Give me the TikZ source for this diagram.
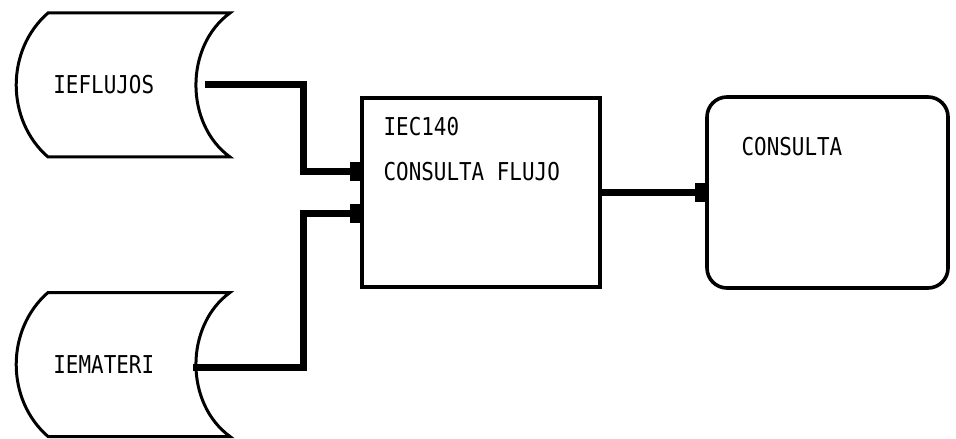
\documentclass[tikz,border=0pt]{standalone}
\usepackage{fontspec}
\newfontfamily\dotfont[FakeStretch=0.85]{DejaVu Sans Mono}
\usetikzlibrary{arrows.meta,positioning,calc}

\begin{document}
\begin{tikzpicture}[x=0.5pt, y=-0.5pt, font=\dotfont\fontsize{12.3}{14}\selectfont,
  >={Rectangle[length=5pt,width=9.5pt]},
  store/.style={minimum width=91pt, minimum height=72pt, inner sep=0pt, outer sep=0pt},
  proc/.style={draw, line width=1.8pt, minimum width=119pt, minimum height=94.5pt, inner sep=0pt},
  term/.style={proc, rounded corners=10pt, minimum width=120.5pt, minimum height=95.5pt},
  shell/.style={line width=1.5pt},
  lbl/.style={inner sep=0pt},
  flow/.style={->, line width=3.5pt}]
\useasboundingbox (0,0) rectangle (956,438);
% files
\node[store] (flujos) at (139,85) {};
\node[store] (materi) at (139,364.5) {};
\foreach \f in {flujos,materi}
  \draw[shell] (\f.south west) to[bend left=49] (\f.north west) -- (\f.north east)
    to[bend right=54] (\f.south east) -- cycle;
\node[lbl, right=2.5pt of flujos.west] (flujoslbl) {IEFLUJOS};
\node[lbl, right=2.5pt of materi.west] (materilbl) {IEMATERI};
% program and output
\node[proc] (iec) at (481,192.5) {};
\node[lbl, below right=10.5pt and 11.5pt of iec.north west] (iecid) {IEC140};
\node[lbl, below=12.5pt of iecid.south west, anchor=north west] (iectitle) {CONSULTA FLUJO};
\node[term] (consulta) at (827.5,192.5) {};
\node[lbl, below right=21pt and 18pt of consulta.north west] (consultalbl) {CONSULTA};
% flows
\coordinate (fo) at ($(flujos.east)+(-25,0)$);
\coordinate (mo) at ($(materi.east)+(-37,3)$);
\draw[flow] (fo) -- ++(98,0) |- ($(iec.west)+(0,-21)$);
\draw[flow] (mo) -- ++(110,0) |- ($(iec.west)+(0,21)$);
\draw[flow] (iec) -- (consulta);
\end{tikzpicture}
\end{document}
